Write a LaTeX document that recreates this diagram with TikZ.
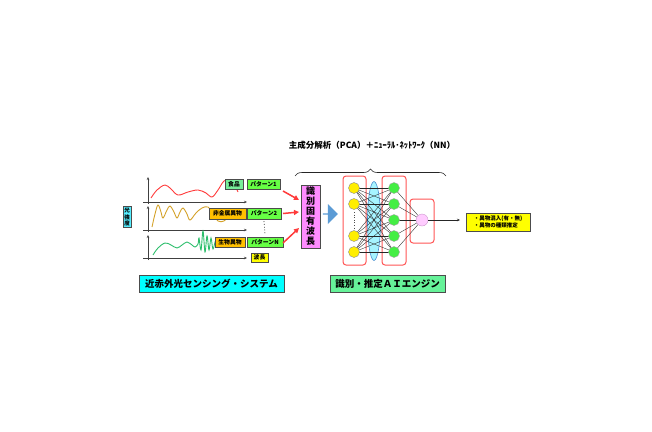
\documentclass[tikz,border=0pt]{standalone}
\usepackage{fontspec}
\setmainfont{Noto Sans CJK JP}
\usetikzlibrary{arrows.meta,shapes.arrows,shapes.geometric,decorations.pathreplacing}
\definecolor{redc}{HTML}{FF3B3B}
\definecolor{goldc}{HTML}{D4A22A}
\definecolor{grnc}{HTML}{2DBE6C}
\definecolor{mint}{HTML}{77EE99}
\definecolor{patg}{HTML}{66FF44}
\definecolor{orng}{HTML}{FFC000}
\definecolor{yel}{HTML}{FFFF00}
\definecolor{cyanb}{HTML}{00FFFF}
\definecolor{cyanl}{HTML}{55EEFF}
\definecolor{pinkb}{HTML}{FF8CFF}
\definecolor{engg}{HTML}{66F299}
\definecolor{layr}{HTML}{FF5555}
\definecolor{bluea}{HTML}{5B9BD5}
\definecolor{ellf}{HTML}{A6F4FF}
\definecolor{elld}{HTML}{4F8FD0}
\definecolor{nyel}{HTML}{FFEE00}
\definecolor{ngrn}{HTML}{44EE44}
\definecolor{npnk}{HTML}{FFCCFF}
\begin{document}
\begin{tikzpicture}[x=1pt,y=-1pt,
  lbl/.style={draw=black!70, line width=0.4pt, inner sep=0pt, font=\fontsize{5.8}{6}\selectfont\bfseries},
  big/.style={draw=black!70, line width=0.4pt, inner sep=0pt, font=\fontsize{9.5}{10}\selectfont\bfseries},
  axis/.style={draw=black!75, line width=0.7pt, -{Stealth[length=3pt,width=2.5pt]}},
  curve/.style={line width=0.9pt, smooth, tension=0.6},
  redarr/.style={draw=redc, line width=1.5pt, -{Triangle[length=5pt,width=5pt]}},
  layerbox/.style={draw=layr, line width=1pt, rounded corners=3pt, fill=white, inner sep=0pt},
  ynode/.style={circle, fill=nyel, draw=black!45, line width=0.4pt, minimum size=11pt, inner sep=0pt},
  gnode/.style={circle, fill=ngrn, draw=black!35, line width=0.4pt, minimum size=11pt, inner sep=0pt},
  conn/.style={draw=black!85, line width=0.35pt}
]
\useasboundingbox (0,0) rectangle (652,431);

% axes
\coordinate (a1o) at (143,202); \coordinate (a1x) at (247,202);
\coordinate (a1b) at (148,204); \coordinate (a1y) at (148,177);
\coordinate (a2o) at (143,230); \coordinate (a2x) at (247,230);
\coordinate (a2b) at (148,232); \coordinate (a2y) at (148,206);
\coordinate (a3o) at (143,258); \coordinate (a3x) at (247,258);
\coordinate (a3b) at (148,260); \coordinate (a3y) at (148,235);
\draw[axis] (a1o) -- (a1x); \draw[axis] (a1b) -- (a1y);
\draw[axis] (a2o) -- (a2x); \draw[axis] (a2b) -- (a2y);
\draw[axis] (a3o) -- (a3x); \draw[axis] (a3b) -- (a3y);

% curves
\draw[redc, curve] plot coordinates {(151,198) (157,190) (165,185) (171,189) (178,195) (188,192) (198,190) (206,193) (212,197) (218,190) (224,181) (230,180) (235,186) (238,192)};
\draw[goldc, curve] plot coordinates {(152,227) (155,214) (158,205) (161,212) (163,218) (167,210) (170,206) (174,212) (177,218) (180,212) (183,208) (187,214) (190,220) (196,213) (202,208) (208,207) (213,213) (218,221) (224,221) (228,217)};
\draw[grnc, curve] plot coordinates {(153,255) (158,248) (165,243) (171,245) (177,248) (182,245) (187,242) (192,245) (195,247) (198,244) (199,238) (201,250) (203,231) (205,252) (207,236) (209,250) (211,238) (213,249) (216,240) (220,246) (225,238) (228,248)};

% labels left
\node[lbl, fill=mint, minimum width=18pt, minimum height=10pt] (food) at (234,184) {食品};
\node[lbl, fill=patg, minimum width=33pt, minimum height=10pt] (p1) at (263.5,184) {パターン1};
\node[lbl, fill=orng, minimum width=37pt, minimum height=11pt] (nonmet) at (227.5,213.5) {非金属異物};
\node[lbl, fill=patg, minimum width=34pt, minimum height=11pt] (p2) at (264,213.5) {パターン2};
\node[lbl, fill=orng, minimum width=30pt, minimum height=10pt] (bio) at (230,242) {生物異物};
\node[lbl, fill=patg, minimum width=36pt, minimum height=10pt] (pN) at (265,242) {パターンN};
\node[lbl, fill=yel, minimum width=17pt, minimum height=9pt] (wl) at (259.5,257.5) {波長};
\node[lbl, fill=cyanl, minimum width=8pt, minimum height=21pt, align=center, font=\fontsize{5.5}{6.3}\selectfont\bfseries] (inten) at (127,217) {光\\強\\度};
\draw[dotted, line width=0.8pt, black!80] (p2.south) ++(0,2) coordinate (d1) (pN.north) ++(0,-2) coordinate (d2);
\draw[dotted, line width=0.8pt, black!80] (d1) -- (d2);

% wavelength box
\node[big, fill=pinkb, minimum width=19pt, minimum height=63pt, align=center, font=\fontsize{9}{10}\selectfont\bfseries] (wave) at (310.5,216.5) {識\\別\\固\\有\\波\\長};
\coordinate (t1) at (299,200); \coordinate (t2) at (299,212); \coordinate (t3) at (299,228);
\coordinate (s1) at (283,191); \coordinate (s2) at (283,213.5); \coordinate (s3) at (283,243);
\draw[redarr] (s1) -- (t1);
\draw[redarr] (s2) -- (t2);
\draw[redarr] (s3) -- (t3);

% blue block arrow
\node[single arrow, fill=bluea, draw=none, minimum width=20pt, minimum height=15pt, single arrow head extend=3pt, inner sep=0pt] (blk) at (330,214) {};

% network boxes
\node[layerbox, minimum width=23pt, minimum height=89pt] (L1) at (354.5,220.5) {};
\node[layerbox, minimum width=24pt, minimum height=89pt] (L2) at (394,220.5) {};
\node[layerbox, minimum width=24pt, minimum height=44pt] (L3) at (422,221) {};
\node[ellipse, fill=ellf, draw=elld, line width=0.6pt, minimum width=13pt, minimum height=79pt, inner sep=0pt] (ell) at (374,221) {};

% node coordinates
\coordinate (y1) at (354,188); \coordinate (y2) at (354,204);
\coordinate (y3) at (354,236); \coordinate (y4) at (354,252);
\coordinate (g1) at (394,188); \coordinate (g2) at (394,204); \coordinate (g3) at (394,220);
\coordinate (g4) at (394,236); \coordinate (g5) at (394,252);
\coordinate (o1) at (422,220);
\foreach \a in {y1,y2,y3,y4}{\foreach \b in {g1,g2,g3,g4,g5}{\draw[conn] (\a) -- (\b);}}
\foreach \b in {g1,g2,g3,g4,g5}{\draw[conn] (\b) -- (o1);}
\foreach \a in {y1,y2,y3,y4}{\node[ynode] (n\a) at (\a) {};}
\foreach \b in {g1,g2,g3,g4,g5}{\node[gnode] (n\b) at (\b) {};}
\node[circle, fill=npnk, draw=violet!40, line width=0.4pt, minimum size=12pt, inner sep=0pt] (no1) at (o1) {};
\coordinate (dd1) at (354,212); \coordinate (dd2) at (354,229);
\draw[dotted, line width=0.6pt, black!70] (dd1) -- (dd2);

% output
\coordinate (oend) at (460,220);
\draw[draw=black!85, line width=0.5pt, -{Stealth[length=3pt,width=2.5pt]}] (no1) -- (oend);
\node[lbl, fill=yel, minimum width=64pt, minimum height=18pt, align=left, font=\fontsize{5.5}{7}\selectfont\bfseries] (res) at (498,222) {・異物混入(有・無)\\・異物の種類推定};

% brace and title
\coordinate (bl) at (295,176); \coordinate (br) at (446,176);
\draw[decorate, decoration={brace, amplitude=7pt}, line width=0.6pt, black!85] (bl) -- (br);
\node[font=\fontsize{8.5}{9}\selectfont\bfseries, inner sep=0pt] (title) at (372,145) {主成分解析（PCA）＋ﾆｭｰﾗﾙ･ﾈｯﾄﾜｰｸ（NN）};

% bottom labels
\node[big, fill=cyanb, minimum width=145pt, minimum height=17pt] (sens) at (211.5,283.5) {近赤外光センシング・システム};
\node[big, fill=engg, minimum width=115pt, minimum height=17pt] (eng) at (387.5,283.5) {識別・推定ＡＩエンジン};
\end{tikzpicture}
\end{document}
